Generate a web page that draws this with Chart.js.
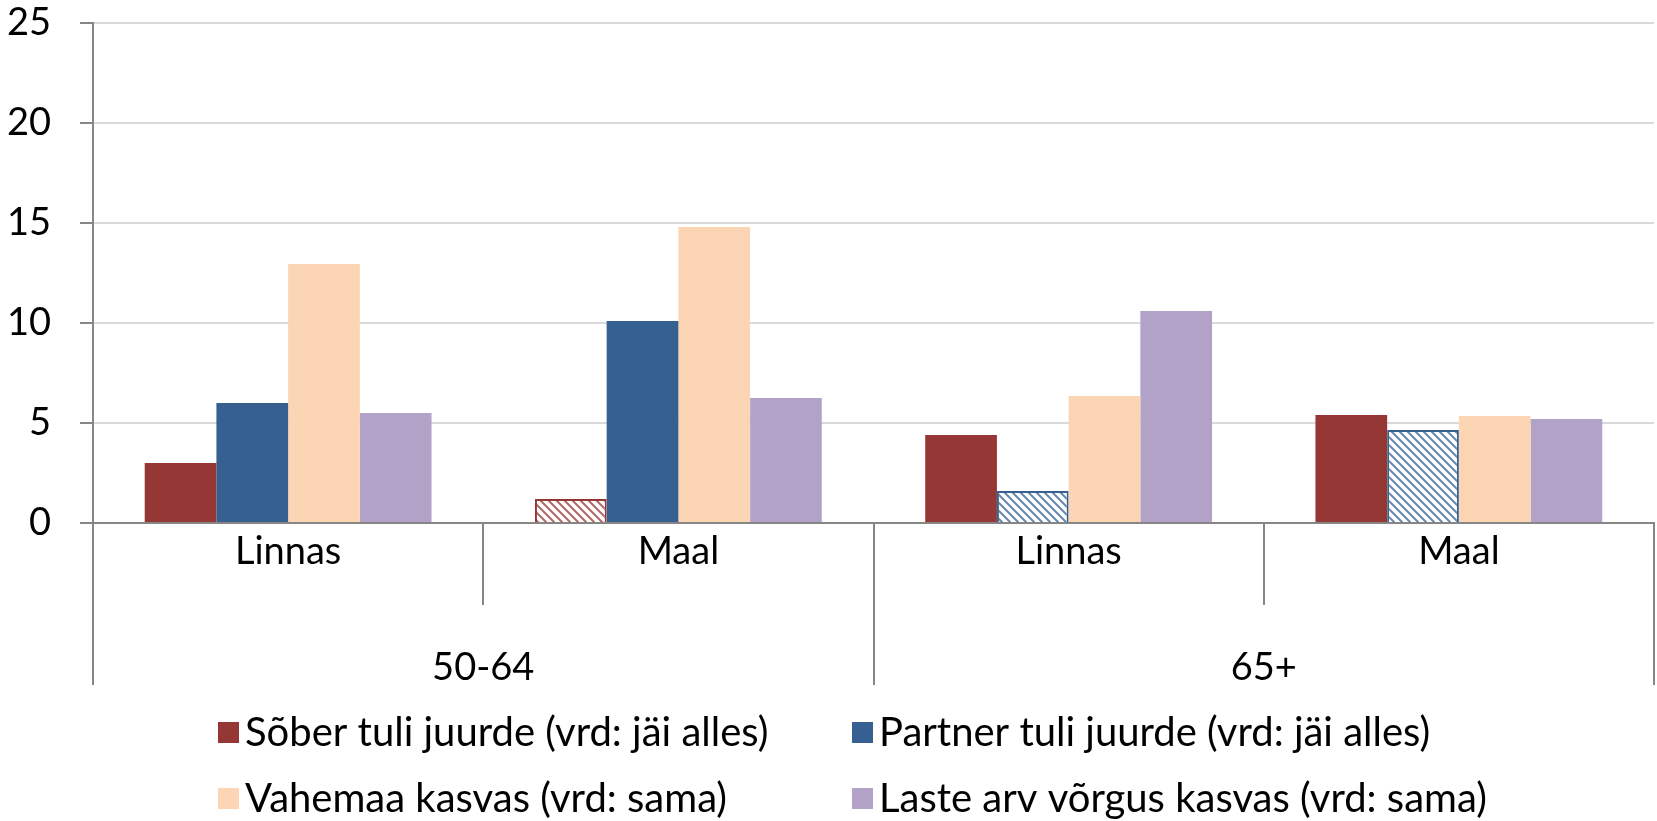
<!DOCTYPE html>
<html>
<head>
<meta charset="utf-8">
<script src="https://cdn.jsdelivr.net/npm/chart.js@4.4.0/dist/chart.umd.min.js"></script>
<style>
  html, body { margin: 0; padding: 0; background: #fff; }
</style>
</head>
<body>
<canvas id="chart" width="1657" height="821"></canvas>
<script>
const places = ["Linnas", "Maal", "Linnas", "Maal"];
const ageGroups = ["50-64", "65+"];
const yMin = 0;
const yMax = 25;
const yStep = 5;

const seriesNames = [
  "Sõber tuli juurde (vrd: jäi alles)",
  "Partner tuli juurde (vrd: jäi alles)",
  "Vahemaa kasvas (vrd: sama)",
  "Laste arv võrgus kasvas (vrd: sama)",
];
const sober = [3.0, 1.2, 4.4, 5.4];
const partner = [6.0, 10.1, 1.6, 4.65];
const vahemaa = [12.95, 14.8, 6.35, 5.35];
const laste = [5.5, 6.25, 10.6, 5.2];

// hatched bars = not significant
const soberHatched = [false, true, false, false];
const partnerHatched = [false, false, true, true];
const noHatch = [false, false, false, false];

const colors = ["#953735", "#376092", "#FCD5B5", "#B3A2C7"];
const FONT = "Lato";

function hatch(color) {
  const c = document.createElement("canvas");
  c.width = 8;
  c.height = 8;
  const g = c.getContext("2d");
  g.fillStyle = "#fff";
  g.fillRect(0, 0, 8, 8);
  g.strokeStyle = color;
  g.globalAlpha = 0.75;
  g.lineWidth = 2;
  g.beginPath();
  g.moveTo(-2, -2); g.lineTo(10, 10);
  g.moveTo(-10, -2); g.lineTo(2, 10);
  g.moveTo(6, -2); g.lineTo(18, 10);
  g.stroke();
  return g.createPattern(c, "repeat");
}

function makeSet(label, data, color, hatchedFlags) {
  const pat = hatch(color);
  return {
    label,
    data,
    backgroundColor: hatchedFlags.map((h) => (h ? pat : color)),
    borderColor: color,
    borderWidth: hatchedFlags.map((h) => (h ? 2 : 0)),
    categoryPercentage: 0.735,
    barPercentage: 1.0,
  };
}

// legend in two aligned columns, drawn under the axes
const gridLegend = {
  id: "gridLegend",
  afterDraw(chart) {
    const ctx = chart.ctx;
    const colX = [218, 852];
    const rowY = [732, 798];
    ctx.save();
    ctx.font = `40px ${FONT}`;
    ctx.textBaseline = "middle";
    ctx.textAlign = "left";
    chart.data.datasets.forEach((ds, i) => {
      const x = colX[i % 2];
      const y = rowY[Math.floor(i / 2)];
      ctx.fillStyle = ds.borderColor;
      ctx.fillRect(x, y - 10, 21, 21);
      ctx.fillStyle = "#000";
      ctx.fillText(ds.label, x + 27, y + 1);
    });
    ctx.restore();
  },
};

new Chart(document.getElementById("chart"), {
  type: "bar",
  data: {
    labels: places,
    datasets: [
      makeSet(seriesNames[0], sober, colors[0], soberHatched),
      makeSet(seriesNames[1], partner, colors[1], partnerHatched),
      makeSet(seriesNames[2], vahemaa, colors[2], noHatch),
      makeSet(seriesNames[3], laste, colors[3], noHatch),
    ],
  },
  plugins: [gridLegend],
  options: {
    responsive: false,
    animation: false,
    layout: { padding: { left: 0, right: 3, top: 0, bottom: 136 } },
    plugins: {
      tooltip: { enabled: false },
      legend: { display: false },
    },
    scales: {
      x: {
        offset: true,
        weight: 0,
        afterFit: (s) => { s.height = 82; },
        grid: { offset: true, drawOnChartArea: false, color: "#868686", lineWidth: 2, tickLength: 82 },
        border: { color: "#868686", width: 2 },
        ticks: { color: "#000", font: { family: FONT, size: 38 }, padding: -76, autoSkip: false, maxRotation: 0 },
      },
      xAge: {
        type: "category",
        labels: ageGroups,
        position: "bottom",
        offset: true,
        weight: 1,
        afterFit: (s) => { s.height = 80; },
        grid: { offset: true, drawOnChartArea: false, color: "#868686", lineWidth: 2, tickLength: 80 },
        border: { display: false },
        ticks: { color: "#000", font: { family: FONT, size: 38 }, padding: -40, autoSkip: false, maxRotation: 0 },
      },
      y: {
        min: yMin,
        max: yMax,
        afterFit: (s) => { s.width = 93; s.paddingTop = 23; s.paddingBottom = 23; },
        ticks: { stepSize: yStep, color: "#000", font: { family: FONT, size: 38 }, padding: 29 },
        grid: { color: "#D9D9D9", lineWidth: 2, tickColor: "#868686", tickLength: 13 },
        border: { color: "#868686", width: 2 },
      },
    },
  },
});
</script>
</body>
</html>
